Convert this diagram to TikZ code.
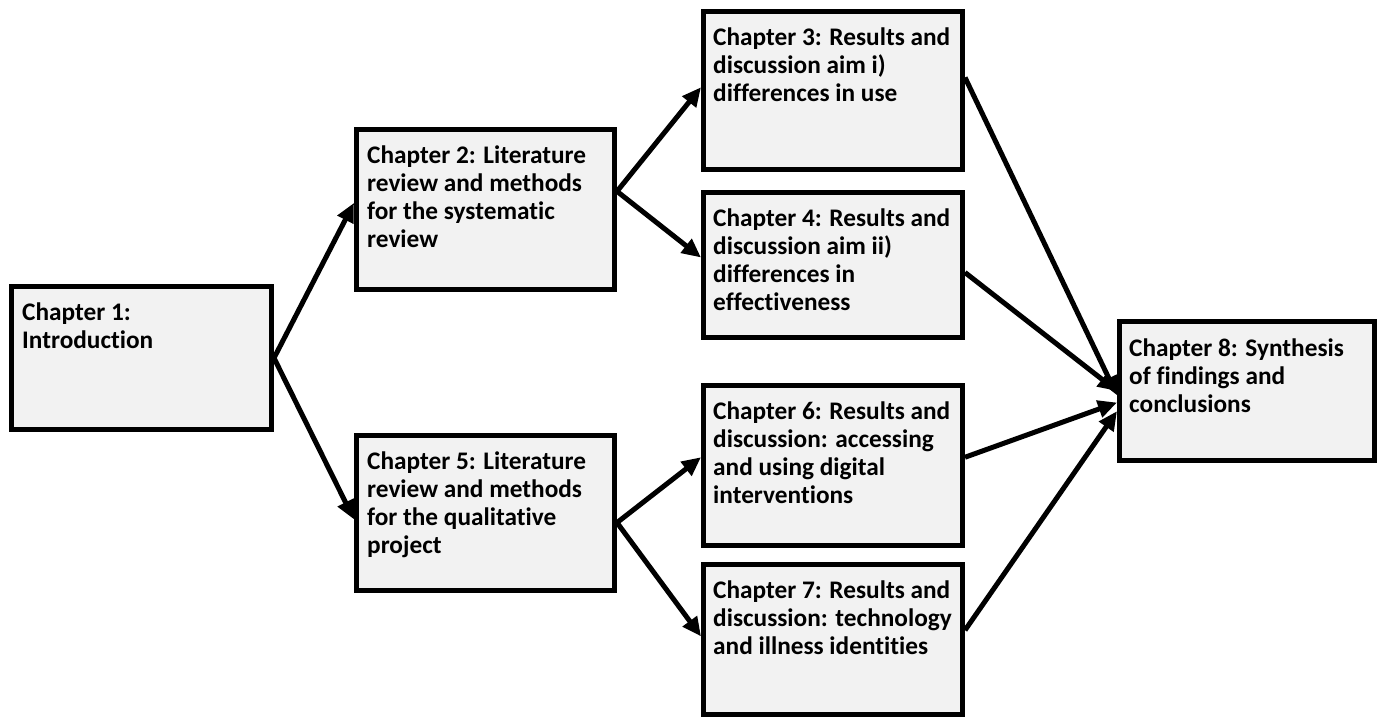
\documentclass[tikz,border=0pt]{standalone}
\usepackage{fontspec}
\setmainfont{Carlito}[Ligatures=NoCommon]
\usetikzlibrary{calc,arrows.meta}
\definecolor{boxgray}{HTML}{F2F2F2}
\begin{document}
\begin{tikzpicture}[x=1pt,y=-1pt,
  box/.style={draw=black, line width=5pt, fill=boxgray, rectangle, inner sep=0pt},
  txt/.style={anchor=north west, align=left, inner sep=0pt, font=\fontsize{25.3}{28}\selectfont\bfseries},
  conn/.style={line width=5pt, -{Triangle[length=19pt,width=17pt]}}]
\useasboundingbox (0,0) rectangle (1378,718);
\node[box, minimum width=260pt, minimum height=143pt] (c1) at (141.5,358) {};
\node[box, minimum width=258pt, minimum height=160pt] (c2) at (485.5,209.5) {};
\node[box, minimum width=259pt, minimum height=158pt] (c3) at (833,90.5) {};
\node[box, minimum width=259pt, minimum height=145pt] (c4) at (833,265) {};
\node[box, minimum width=258pt, minimum height=155pt] (c5) at (485.5,513) {};
\node[box, minimum width=259pt, minimum height=160pt] (c6) at (833,465.5) {};
\node[box, minimum width=259pt, minimum height=150pt] (c7) at (833,639.5) {};
\node[box, minimum width=255pt, minimum height=139pt] (c8) at (1247,391) {};

\node[txt] (t1) at ([xshift=13pt,yshift=-19pt]c1.north west) {Chapter 1:\\Introduction};
\node[txt] (t2) at ([xshift=13pt,yshift=-19pt]c2.north west) {Chapter 2: Literature\\review and methods\\for the systematic\\review};
\node[txt] (t3) at ([xshift=12pt,yshift=-19pt]c3.north west) {Chapter 3: Results and\\discussion aim i)\\differences in use};
\node[txt] (t4) at ([xshift=12pt,yshift=-19pt]c4.north west) {Chapter 4: Results and\\discussion aim ii)\\differences in\\effectiveness};
\node[txt] (t5) at ([xshift=13pt,yshift=-19pt]c5.north west) {Chapter 5: Literature\\review and methods\\for the qualitative\\project};
\node[txt] (t6) at ([xshift=12pt,yshift=-19pt]c6.north west) {Chapter 6: Results and\\discussion: accessing\\and using digital\\interventions};
\node[txt] (t7) at ([xshift=12pt,yshift=-19pt]c7.north west) {Chapter 7: Results and\\discussion: technology\\and illness identities};
\node[txt] (t8) at ([xshift=12pt,yshift=-20pt]c8.north west) {Chapter 8: Synthesis\\of findings and\\conclusions};

% connectors
\draw[conn] (c1.east) -- ($(c2.north west)!0.46!(c2.south west)$);
\draw[conn] (c1.east) -- ($(c5.north west)!0.54!(c5.south west)$);
\draw[conn] ($(c2.north east)!0.39!(c2.south east)$) -- ($(c3.north west)!0.48!(c3.south west)$);
\draw[conn] ($(c2.north east)!0.39!(c2.south east)$) -- ($(c4.north west)!0.45!(c4.south west)$);
\draw[conn] ($(c5.north east)!0.56!(c5.south east)$) -- ($(c6.north west)!0.45!(c6.south west)$);
\draw[conn] ($(c5.north east)!0.56!(c5.south east)$) -- ($(c7.north west)!0.48!(c7.south west)$);
\draw[conn] ($(c3.north east)!0.42!(c3.south east)$) -- ($(c8.north west)!0.53!(c8.south west)$);
\draw[conn] ($(c4.north east)!0.55!(c4.south east)$) -- ($(c8.north west)!0.50!(c8.south west)$);
\draw[conn] ($(c6.north east)!0.45!(c6.south east)$) -- ($(c8.north west)!0.58!(c8.south west)$);
\draw[conn] ($(c7.north east)!0.44!(c7.south east)$) -- ($(c8.north west)!0.64!(c8.south west)$);
\end{tikzpicture}
\end{document}
